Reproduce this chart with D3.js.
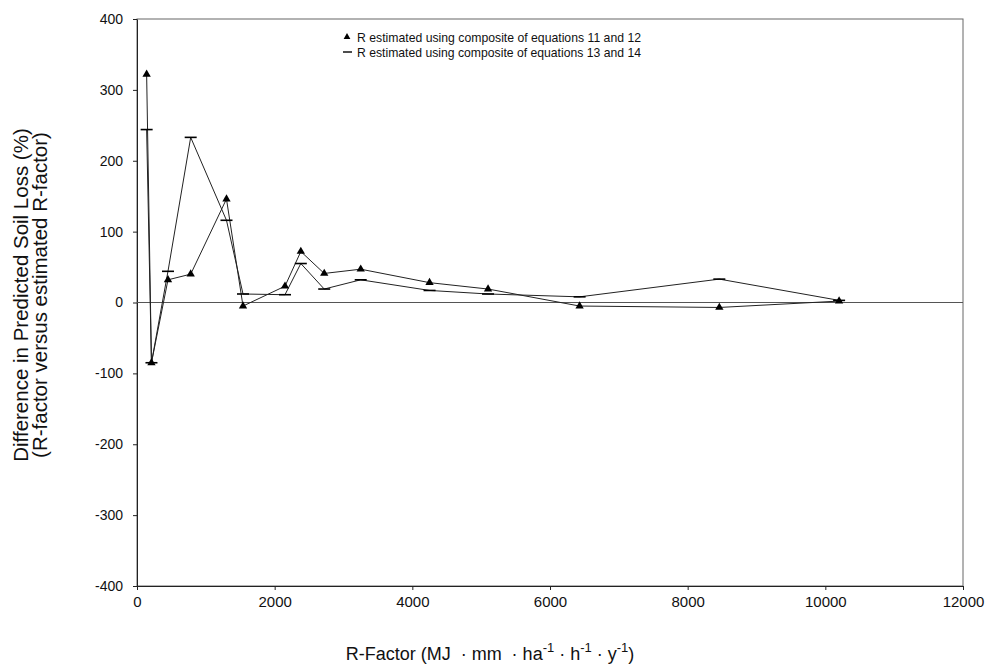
<!DOCTYPE html>
<html>
<head>
<meta charset="utf-8">
<script src="https://cdn.jsdelivr.net/npm/d3@7"></script>
<style>
  html, body { margin: 0; padding: 0; background: #fff; }
  svg { display: block; }
  text { font-family: "Liberation Sans", Arial, sans-serif; fill: #111; }
</style>
</head>
<body>
<svg id="chart" width="997" height="671"></svg>
<script>
// ---- data ----
const rFactor = [140, 210, 450, 780, 1300, 1540, 2150, 2380, 2720, 3250, 4250, 5100, 6430, 8460, 10200];
const series1 = [322, -85, 32, 40, 146, -5, 23, 72, 41, 47, 28, 19, -5, -7, 2];   // eq. 11 & 12 (triangles)
const series2 = [244, -85, 44, 233, 116, 12, 11, 55, 19, 32, 17, 12, 8, 33, 3];   // eq. 13 & 14 (dashes)
const xTicks = [0, 2000, 4000, 6000, 8000, 10000, 12000];
const yTicks = [-400, -300, -200, -100, 0, 100, 200, 300, 400];
const legendLabels = [
  "R estimated using composite of equations 11 and 12",
  "R estimated using composite of equations 13 and 14"
];

const svg = d3.select("#chart");
const pLeft = 137, pRight = 963, pTop = 19, pBottom = 586;

const x = d3.scaleLinear().domain([0, 12000]).range([pLeft, pRight]);
const y = d3.scaleLinear().domain([-400, 400]).range([pBottom, pTop]);

// frame (top/right)
svg.append("rect")
  .attr("x", pLeft).attr("y", pTop)
  .attr("width", pRight - pLeft).attr("height", pBottom - pTop)
  .attr("fill", "none").attr("stroke", "#666").attr("stroke-width", 1);

// axes
const xAxis = d3.axisBottom(x).tickValues(xTicks).tickFormat(d => String(d)).tickSize(4).tickSizeOuter(0);
const gx = svg.append("g").attr("transform", `translate(0,${pBottom})`).call(xAxis);
gx.select(".domain").attr("stroke", "#222");
gx.selectAll(".tick line").attr("stroke", "#222");
gx.selectAll(".tick text")
  .attr("font-family", "'Liberation Sans Narrow', 'Liberation Sans', Arial, sans-serif")
  .attr("font-size", 15).attr("fill", "#111").attr("dy", "0.95em");

const yAxis = d3.axisLeft(y).tickValues(yTicks).tickFormat(d => String(d)).tickSize(4).tickSizeOuter(0);
const gy = svg.append("g").attr("transform", `translate(${pLeft},0)`).call(yAxis);
gy.select(".domain").attr("stroke", "#222");
gy.selectAll(".tick line").attr("stroke", "#222");
gy.selectAll(".tick text")
  .attr("font-family", "'Liberation Sans', Arial, sans-serif")
  .attr("font-size", 14).attr("fill", "#111").attr("x", -14);

// zero line
svg.append("line")
  .attr("x1", pLeft).attr("x2", pRight)
  .attr("y1", y(0)).attr("y2", y(0))
  .attr("stroke", "#555").attr("stroke-width", 1);

// lines
const line = d3.line().x((d, i) => x(rFactor[i])).y(d => y(d));
svg.append("path").datum(series1).attr("d", line)
  .attr("fill", "none").attr("stroke", "#222").attr("stroke-width", 1);
svg.append("path").datum(series2).attr("d", line)
  .attr("fill", "none").attr("stroke", "#222").attr("stroke-width", 1);

// markers
const tri = d3.symbol().type(d3.symbolTriangle).size(30);
svg.append("g").selectAll("path").data(series1).join("path")
  .attr("d", tri)
  .attr("transform", (d, i) => `translate(${x(rFactor[i])},${y(d)})`)
  .attr("fill", "#000");
svg.append("g").selectAll("line").data(series2).join("line")
  .attr("x1", (d, i) => x(rFactor[i]) - 6).attr("x2", (d, i) => x(rFactor[i]) + 6)
  .attr("y1", d => y(d)).attr("y2", d => y(d))
  .attr("stroke", "#000").attr("stroke-width", 1.6);

// legend
const lg = svg.append("g");
lg.append("path").attr("d", d3.symbol().type(d3.symbolTriangle).size(20))
  .attr("transform", "translate(347,37)").attr("fill", "#000");
lg.append("line").attr("x1", 343).attr("x2", 352).attr("y1", 52).attr("y2", 52)
  .attr("stroke", "#000").attr("stroke-width", 1.4);
lg.selectAll("text").data(legendLabels).join("text")
  .attr("x", 357).attr("y", (d, i) => 42 + i * 15)
  .attr("font-size", 13.5)
  .attr("textLength", 284).attr("lengthAdjust", "spacingAndGlyphs")
  .text(d => d);

// y title
const yt = svg.append("text")
  .attr("transform", "translate(28,295) rotate(-90)")
  .attr("text-anchor", "middle").attr("font-size", 20.5);
yt.append("tspan").attr("x", 0).attr("dy", 0).text("Difference in Predicted Soil Loss (%)");
yt.append("tspan").attr("x", 0).attr("dy", 19).text("(R-factor versus estimated R-factor)");

// x title
const xt = svg.append("text")
  .attr("x", 490).attr("y", 660).attr("text-anchor", "middle")
  .attr("font-family", "'Liberation Sans Narrow', 'Liberation Sans', Arial, sans-serif")
  .attr("font-size", 18);
xt.append("tspan").text("R-Factor (MJ \u00A0\u00B7 mm \u00A0\u00B7 ha");
xt.append("tspan").attr("dy", -8).attr("font-size", 13).text("-1");
xt.append("tspan").attr("dy", 8).text("\u00A0\u00B7 h");
xt.append("tspan").attr("dy", -8).attr("font-size", 13).text("-1");
xt.append("tspan").attr("dy", 8).text("\u00A0\u00B7 y");
xt.append("tspan").attr("dy", -8).attr("font-size", 13).text("-1");
xt.append("tspan").attr("dy", 8).text(")");
</script>
</body>
</html>
